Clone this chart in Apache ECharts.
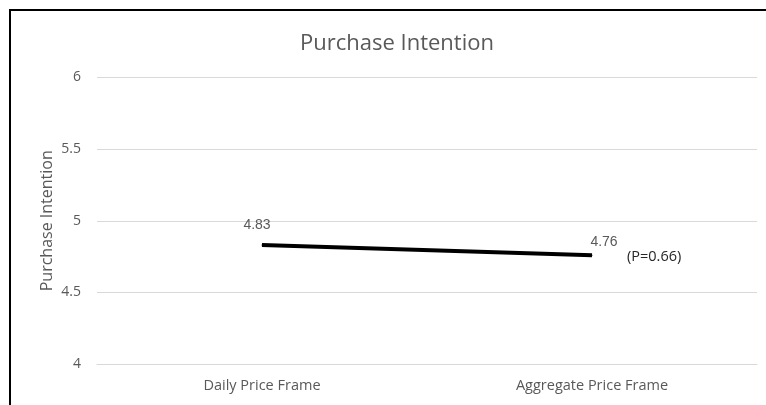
<!DOCTYPE html>
<html>
<head>
<meta charset="utf-8">
<script src="https://cdn.jsdelivr.net/npm/echarts@6/dist/echarts.min.js"></script>
<style>
  html, body { margin: 0; padding: 0; background: #fff; }
  #chart { width: 766px; height: 405px; }
</style>
</head>
<body>
<div id="chart"></div>
<script>
// Mean purchase intention for each price framing condition
const categories = ['Daily Price Frame', 'Aggregate Price Frame'];
const intention = [4.83, 4.76];
const pValueNote = '(P=0.66)';
const yTicks = { min: 4, max: 6, step: 0.5 };

const chart = echarts.init(document.getElementById('chart'));

const labelOffsets = [[-5, -7], [12, 0]];
const uiFont = 'Open Sans';

chart.setOption({
  backgroundColor: '#ffffff',
  animation: false,
  title: {
    text: 'Purchase Intention',
    left: 392,
    top: 28,
    textAlign: 'center',
    textStyle: { fontFamily: uiFont, fontSize: 22, fontWeight: 'normal', color: '#595959' }
  },
  grid: { left: 97, right: 9, top: 77.5, bottom: 41 },
  xAxis: {
    type: 'category',
    data: categories,
    boundaryGap: true,
    axisLine: { lineStyle: { color: '#d9d9d9', width: 1 } },
    axisTick: { show: false },
    axisLabel: { color: '#595959', fontFamily: uiFont, fontSize: 14.5, margin: 14 }
  },
  yAxis: {
    type: 'value',
    min: yTicks.min,
    max: yTicks.max,
    interval: yTicks.step,
    name: 'Purchase Intention',
    nameLocation: 'middle',
    nameGap: 50,
    nameMoveOverlap: false,
    nameTextStyle: { color: '#595959', fontFamily: uiFont, fontSize: 16, verticalAlign: 'middle' },
    axisLine: { show: false },
    axisTick: { show: false },
    axisLabel: { color: '#595959', fontFamily: uiFont, fontSize: 14, margin: 16 },
    splitLine: { lineStyle: { color: '#d9d9d9', width: 1 } }
  },
  series: [{
    type: 'line',
    data: intention.map((v, i) => ({
      value: v,
      label: { offset: labelOffsets[i] }
    })),
    symbol: 'circle',
    symbolSize: 1,
    itemStyle: { color: '#000' },
    lineStyle: { color: '#000', width: 4 },
    label: {
      show: true,
      position: 'top',
      distance: 5,
      color: '#595959',
      fontFamily: 'Liberation Sans',
      fontSize: 14,
      formatter: p => p.value.toFixed(2)
    },
    markPoint: {
      symbol: 'circle',
      symbolSize: 0,
      data: [{
        coord: [categories[1], intention[1]],
        label: {
          show: true,
          position: 'right',
          distance: 35,
          offset: [0, 2],
          formatter: pValueNote,
          color: '#262626',
          fontFamily: uiFont,
          fontSize: 14.5
        }
      }]
    }
  }],
  graphic: [{
    type: 'rect',
    shape: { x: 10, y: 10, width: 800, height: 500 },
    style: { fill: 'none', stroke: '#000', lineWidth: 2 },
    silent: true
  }]
});
</script>
</body>
</html>
